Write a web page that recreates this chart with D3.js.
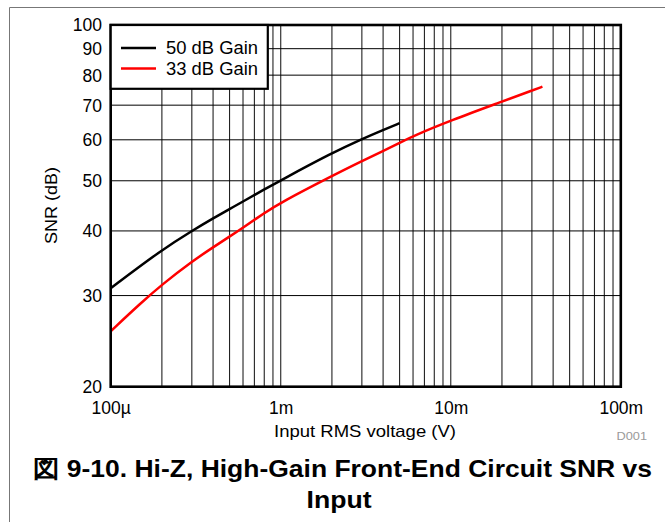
<!DOCTYPE html>
<html><head><meta charset="utf-8">
<script src="https://cdn.jsdelivr.net/npm/d3@7"></script>
<style>
html,body{margin:0;padding:0;background:#fff;}
svg{display:block;font-family:"Liberation Sans",Arial,sans-serif;}
</style></head>
<body><svg id="c" width="665" height="522"></svg>
<script>
// ---- data ----
const gain50X = [1e-4, 2e-4, 3e-4, 4e-4, 5e-4, 6e-4, 8e-4, 1e-3, 2e-3, 3e-3, 4e-3, 5e-3];
const gain50Y = [31.0, 36.8, 40.0, 42.3, 44.1, 45.6, 48.1, 50.1, 56.6, 60.2, 62.7, 64.6];
const gain33X = [1e-4, 1.5e-4, 2e-4, 3e-4, 4e-4, 5e-4, 6e-4, 8e-4, 1e-3, 2e-3, 3e-3, 4e-3, 5e-3, 6e-3, 1e-2, 2e-2, 3e-2, 3.46e-2];
const gain33Y = [25.6, 29.0, 31.5, 34.9, 37.2, 39.0, 40.6, 43.3, 45.4, 51.1, 54.6, 57.1, 59.2, 61.0, 65.4, 71.1, 74.7, 76.0];
const seriesNames = ["50 dB Gain", "33 dB Gain"];
const xTickValues = [1e-4, 1e-3, 1e-2, 1e-1];
const xTickLabels = ["100\u00b5", "1m", "10m", "100m"];
const yTickValues = [20, 30, 40, 50, 60, 70, 80, 90, 100];
const yTickLabels = ["20", "30", "40", "50", "60", "70", "80", "90", "100"];
const xTitle = "Input RMS voltage (V)";
const yTitle = "SNR (dB)";
const noteText = "D001";
const titleLine1 = "\u56f3 9-10. Hi-Z, High-Gain Front-End Circuit SNR vs";
const titleLine2 = "Input";

// ---- layout ----
const L = 110.7, R = 620.8, T = 25, B = 386.7;
const svg = d3.select("#c");
const x = d3.scaleLog().domain([1e-4, 1e-1]).range([L, R]);
const y = d3.scaleLog().domain([20, 100]).range([B, T]);

// outer frame (left + top)
svg.append("path").attr("d", "M9.5,522 L9.5,7.5 L665,7.5")
  .attr("fill", "none").attr("stroke", "#777").attr("stroke-width", 1);

// grid
const xGrid = [];
for (let d = 1e-4; d < 0.1 * 1.0001; d *= 10) {
  for (let m = 1; m <= 9; m++) { const v = d * m; if (v > 1e-4 * 1.0001 && v < 0.1 * 0.9999) xGrid.push(v); }
}
const g = svg.append("g");
g.selectAll("line.vx").data(xGrid).join("line")
  .attr("x1", d => x(d)).attr("x2", d => x(d)).attr("y1", T).attr("y2", B)
  .attr("stroke", "#222").attr("stroke-width", 1.1);
g.selectAll("line.hy").data(yTickValues.slice(1, -1)).join("line")
  .attr("x1", L).attr("x2", R).attr("y1", d => y(d)).attr("y2", d => y(d))
  .attr("stroke", "#000").attr("stroke-width", 1);

// curves
const line = d3.line().x(d => x(d[0])).y(d => y(d[1])).curve(d3.curveBasis);
svg.append("path").datum(d3.zip(gain33X, gain33Y)).attr("d", line)
  .attr("fill", "none").attr("stroke", "#ff0000").attr("stroke-width", 2.5);
svg.append("path").datum(d3.zip(gain50X, gain50Y)).attr("d", line)
  .attr("fill", "none").attr("stroke", "#000").attr("stroke-width", 2.5);

// plot border
svg.append("rect").attr("x", L).attr("y", T).attr("width", R - L).attr("height", B - T)
  .attr("fill", "none").attr("stroke", "#000").attr("stroke-width", 2.6);

// axes labels
const xAxis = d3.axisBottom(x).tickValues(xTickValues)
  .tickFormat((d, i) => xTickLabels[i]).tickSize(0).tickPadding(0);
const xa = svg.append("g").attr("transform", `translate(0,${B})`).call(xAxis);
xa.select(".domain").remove();
xa.selectAll("text").attr("y", 0).attr("dy", 0).attr("transform", "translate(0,27)")
  .attr("font-size", 17.5).attr("font-family", "Liberation Sans, Arial, sans-serif").attr("fill", "#000");

const yAxis = d3.axisLeft(y).tickValues(yTickValues)
  .tickFormat((d, i) => yTickLabels[i]).tickSize(0).tickPadding(0);
const ya = svg.append("g").attr("transform", `translate(102,0)`).call(yAxis);
ya.select(".domain").remove();
ya.selectAll("text").attr("x", 0).attr("dy", "0.34em")
  .attr("font-size", 17.5).attr("font-family", "Liberation Sans, Arial, sans-serif").attr("fill", "#000");

// axis titles
svg.append("text").attr("x", 365).attr("y", 436.5).attr("text-anchor", "middle")
  .attr("font-size", 16.5).attr("textLength", 182).attr("lengthAdjust", "spacingAndGlyphs")
  .text(xTitle);
svg.append("text").attr("transform", "translate(56.5,205.5) rotate(-90)").attr("text-anchor", "middle")
  .attr("font-size", 17).attr("textLength", 77).attr("lengthAdjust", "spacingAndGlyphs")
  .text(yTitle);
svg.append("text").attr("x", 647).attr("y", 440).attr("text-anchor", "end")
  .attr("font-size", 11).attr("fill", "#9a9a9a").attr("textLength", 30.5).attr("lengthAdjust", "spacingAndGlyphs")
  .text(noteText);

// legend
const lg = svg.append("g");
lg.append("rect").attr("x", L).attr("y", T).attr("width", 267.8 - L).attr("height", 88.8 - T)
  .attr("fill", "#fff").attr("stroke", "#000").attr("stroke-width", 2.2);
const legColors = ["#000", "#ff0000"];
const legY = [48, 68.5];
seriesNames.forEach((n, i) => {
  lg.append("line").attr("x1", 121).attr("x2", 156).attr("y1", legY[i]).attr("y2", legY[i])
    .attr("stroke", legColors[i]).attr("stroke-width", 2.5);
  lg.append("text").attr("x", 166).attr("y", legY[i] + 6).attr("font-size", 17.5)
    .attr("textLength", 92).attr("lengthAdjust", "spacingAndGlyphs").text(n);
});

// caption
svg.append("text").attr("x", 342.5).attr("y", 476.5).attr("text-anchor", "middle")
  .attr("font-size", 24).attr("font-weight", "bold").attr("textLength", 619).attr("lengthAdjust", "spacingAndGlyphs")
  .text(titleLine1);
svg.append("text").attr("x", 339).attr("y", 508).attr("text-anchor", "middle")
  .attr("font-size", 24).attr("font-weight", "bold").attr("textLength", 65).attr("lengthAdjust", "spacingAndGlyphs")
  .text(titleLine2);
</script></body></html>
